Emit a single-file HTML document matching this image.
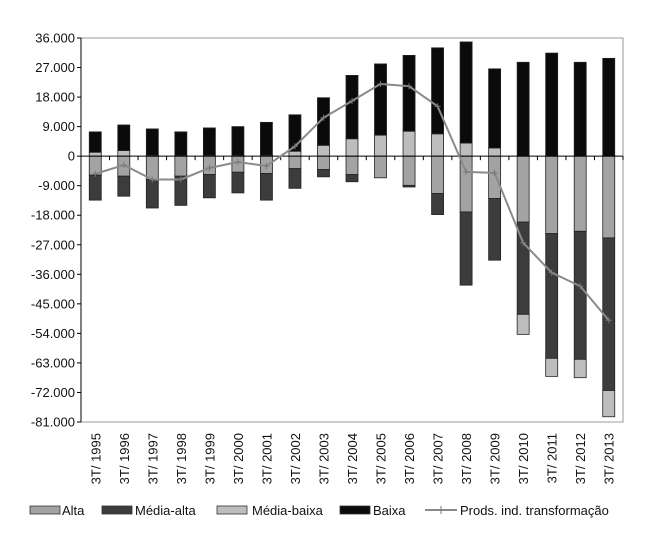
<!DOCTYPE html>
<html><head><meta charset="utf-8"><style>
body{margin:0;background:#fff;width:650px;height:530px;overflow:hidden}
svg{font-family:"Liberation Sans",Arial,sans-serif;font-size:13px}
</style></head><body>
<svg id="chart" width="650" height="530" xmlns="http://www.w3.org/2000/svg"></svg>
<script>
const categories=["3T/ 1995","3T/ 1996","3T/ 1997","3T/ 1998","3T/ 1999","3T/ 2000","3T/ 2001","3T/ 2002","3T/ 2003","3T/ 2004","3T/ 2005","3T/ 2006","3T/ 2007","3T/ 2008","3T/ 2009","3T/ 2010","3T/ 2011","3T/ 2012","3T/ 2013"];
const alta=[-5.8,-6.1,-7.1,-6.1,-5.6,-4.9,-5.3,-3.8,-4.1,-5.6,-6.6,-8.9,-11.4,-17.0,-12.9,-20.1,-23.6,-22.9,-24.9];
const mediaAlta=[-7.6,-6.1,-8.7,-8.9,-7.1,-6.3,-8.1,-6.0,-2.2,-2.2,0,-0.5,-6.4,-22.3,-18.8,-28.1,-38.0,-39.0,-46.5];
const mediaBaixa=[1.2,1.7,0.3,0.2,0.3,0.3,0.3,1.5,3.3,5.3,6.4,7.6,6.8,4.0,2.5,-6.1,-5.5,-5.6,-8.0];
const baixa=[6.2,7.8,8.0,7.2,8.3,8.7,10.0,11.1,14.5,19.3,21.7,23.1,26.2,30.8,24.1,28.6,31.4,28.6,29.8];
const prods=[-5.4,-2.7,-7.1,-7.1,-3.6,-1.8,-3.0,3.0,11.7,16.8,22.0,21.3,15.2,-4.8,-5.1,-26.4,-35.5,-39.6,-50.0];
const yTicks=[36,27,18,9,0,-9,-18,-27,-36,-45,-54,-63,-72,-81];
const yTickLabels=["36.000","27.000","18.000","9.000","0","-9.000","-18.000","-27.000","-36.000","-45.000","-54.000","-63.000","-72.000","-81.000"];

const NS="http://www.w3.org/2000/svg",svg=document.getElementById('chart');
const L=81,R=623,T=38,B=422,yMax=36,yMin=-81;
const y=v=>T+(yMax-v)/(yMax-yMin)*(B-T);
const step=(R-L)/categories.length;
const x=i=>L+step*(i+0.5);
function mk(t,a,p){const e=document.createElementNS(NS,t);for(const k in a)e.setAttribute(k,a[k]);(p||svg).appendChild(e);return e;}
const colors={alta:"#a3a3a3",mediaAlta:"#3c3c3c",mediaBaixa:"#bdbdbd",baixa:"#0a0a0a"};
// frame
let fr=mk('rect',{x:L,y:T,width:R-L,height:B-T,fill:'none',stroke:'#999','stroke-width':1});


// y axis
let ya=mk('line',{x1:L,y1:T,x2:L,y2:B,stroke:'#000'});


yTicks.forEach((v,i)=>{
  mk('line',{x1:L-4,y1:y(v),x2:L,y2:y(v),stroke:'#000'});
  const t=mk('text',{x:L-6,y:y(v)+4.5,'text-anchor':'end',fill:'#111'});t.textContent=yTickLabels[i];
  
  
});
// bars
const series=[["alta",alta],["mediaAlta",mediaAlta],["mediaBaixa",mediaBaixa],["baixa",baixa]];
const bw=12;
categories.forEach((c,i)=>{
  let pos=0,neg=0;
  series.forEach(([n,arr])=>{
    const v=arr[i];if(!v)return;
    let y0,y1;
    if(v>0){y0=pos;pos+=v;y1=pos;}else{y0=neg;neg+=v;y1=neg;}
    const r=mk('rect',{x:x(i)-bw/2,y:Math.min(y(y0),y(y1)),width:bw,height:Math.abs(y(y0)-y(y1)),fill:colors[n],stroke:'#222','stroke-width':0.8});
    
    
  });
});
// x axis at zero
let xa=mk('line',{x1:L,y1:y(0),x2:R,y2:y(0),stroke:'#000'});


for(let i=0;i<=categories.length;i++)mk('line',{x1:L+step*i,y1:y(0),x2:L+step*i,y2:y(0)+4,stroke:'#000'});
// line
let d=prods.map((v,i)=>(i?'L':'M')+x(i)+','+y(v)).join(' ');
let pl=mk('path',{d:d,fill:'none',stroke:'#8a8a8a','stroke-width':2});


prods.forEach((v,i)=>{
  const m=mk('path',{d:`M${x(i)-3},${y(v)}h6M${x(i)},${y(v)-3}v6`,stroke:'#777','stroke-width':1});
  
  
});
// x labels
categories.forEach((c,i)=>{
  const t=mk('text',{transform:`translate(${x(i)+5},${B+11}) rotate(-90)`,'text-anchor':'end',fill:'#111'});
  t.textContent=c;
  
  
});
// legend
const leg=[["Alta",colors.alta,30,62],["Média-alta",colors.mediaAlta,102,135],["Média-baixa",colors.mediaBaixa,217,252],["Baixa",colors.baixa,340,373]];
leg.forEach(([n,c,sx,tx])=>{
  const r=mk('rect',{x:sx,y:506,width:30,height:8,fill:c,stroke:'#333','stroke-width':0.8});
  
  
  const t=mk('text',{x:tx,y:515,fill:'#111'});t.textContent=n;
  
  
});
mk('line',{x1:425,y1:510,x2:457,y2:510,stroke:'#8a8a8a','stroke-width':2});
mk('path',{d:'M441,506v8',stroke:'#777'});
let lt=mk('text',{x:460,y:515,fill:'#111'});lt.textContent="Prods. ind. transformação";


</script>
</body></html>
